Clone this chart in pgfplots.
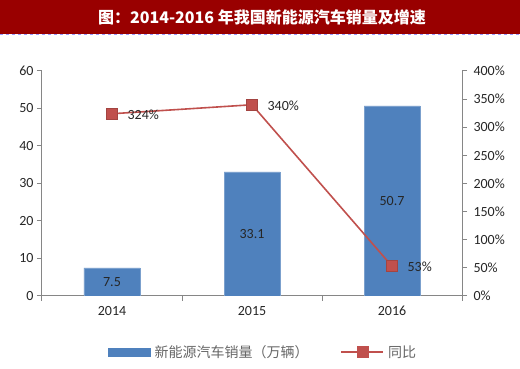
\documentclass[border=0pt]{standalone}
\usepackage{pgfplots}
\pgfplotsset{compat=1.18}
\usepackage{fontspec}
\setmainfont{Carlito}
\newfontfamily\cjk{Noto Sans CJK SC}
\definecolor{banner}{HTML}{990000}
\definecolor{barblue}{HTML}{4F81BD}
\definecolor{linered}{HTML}{C0504D}
\definecolor{axgray}{HTML}{868686}
\definecolor{txt}{HTML}{262626}
\begin{document}
\begin{tikzpicture}[x=1pt,y=1pt]
\begin{axis}[
  name=ax, scale only axis,
  width=420pt, height=225pt,
  xmin=-0.5, xmax=2.5, ymin=0, ymax=60,
  ytick={0,10,...,60},
  xtick={-0.5,0.5,1.5,2.5},
  xticklabels={2014,2015,2016},
  x tick label as interval,
  axis x line*=bottom, axis y line*=left,
  axis line style={axgray, line width=1pt},
  tick style={axgray, line width=1pt},
  major tick length=5pt, tick align=outside,
  tick label style={font=\fontsize{14}{15}\selectfont, text=txt},
  x tick label style={yshift=-2pt},
  /pgf/number format/assume math mode=true,
]
\addplot[ybar, bar width=56pt, fill=barblue, draw=barblue!75!white,
  nodes near coords,
  visualization depends on={rawy \as \rawy},
  every node near coord/.append style={anchor=center, text=txt,
    font=\fontsize{14}{15}\selectfont,
    shift={(axis direction cs:0,-\rawy/2)}}]
  coordinates {(0,7.5) (1,33.1) (2,50.7)};
\coordinate (O) at (rel axis cs:0,0);
\end{axis}
\begin{axis}[
  at={(ax.south west)}, anchor=south west, scale only axis,
  width=420pt, height=225pt,
  xmin=-0.5, xmax=2.5, ymin=0, ymax=400,
  ytick={0,50,...,400},
  yticklabel={\pgfmathprintnumber{\tick}\%},
  axis x line=none, axis y line*=right,
  axis line style={axgray, line width=1pt},
  tick style={axgray, line width=1pt},
  major tick length=5pt, tick align=outside,
  tick label style={font=\fontsize{14}{15}\selectfont, text=txt},
  y tick label style={xshift=3pt},
  /pgf/number format/assume math mode=true,
  legend style={draw=none, fill=none, at={(0.529,-0.249)}, anchor=center,
    font=\cjk\fontsize{14}{15}\selectfont, text=black!60,
    nodes={inner xsep=4pt}},
  legend columns=2,
  /tikz/every even column/.append style={column sep=28pt},
]
\addlegendimage{legend image code/.code={\fill[barblue] (0pt,-4pt) rectangle (42pt,4pt);}}
\addlegendentry{新能源汽车销量（万辆）}
\addlegendimage{legend image code/.code={\draw[linered,line width=1.6pt] (0pt,0pt) -- (42pt,0pt); \fill[linered] (15.5pt,-5.5pt) rectangle (26.5pt,5.5pt);}}
\addlegendentry{同比}
\addplot[linered, line width=1.6pt, mark=square*, mark size=5.5pt,
  mark options={fill=linered, draw=linered!85!black, line width=0.5pt},
  nodes near coords={\pgfmathprintnumber{\pgfplotspointmeta}\%},
  every node near coord/.append style={anchor=west, xshift=12pt, yshift=-1pt, text=txt,
    font=\fontsize{14}{15}\selectfont},
  forget plot]
  coordinates {(0,324) (1,340) (2,53)};
\end{axis}
\begin{scope}[shift={(O)}, xshift=-42pt, yshift=-73pt]
\fill[banner] (0,335) rectangle (520,369);
\draw[blue!40, dashed, line width=0.5pt] (0,334.5) -- (520,334.5);
\node[text=white, font=\cjk\bfseries\fontsize{16}{18}\selectfont] at (262,352) {图：2014-2016 年我国新能源汽车销量及增速};
\end{scope}
\pgfresetboundingbox
\path[use as bounding box, shift={(O)}, xshift=-42pt, yshift=-73pt] (0,0) rectangle (520,369);
\end{tikzpicture}
\end{document}
